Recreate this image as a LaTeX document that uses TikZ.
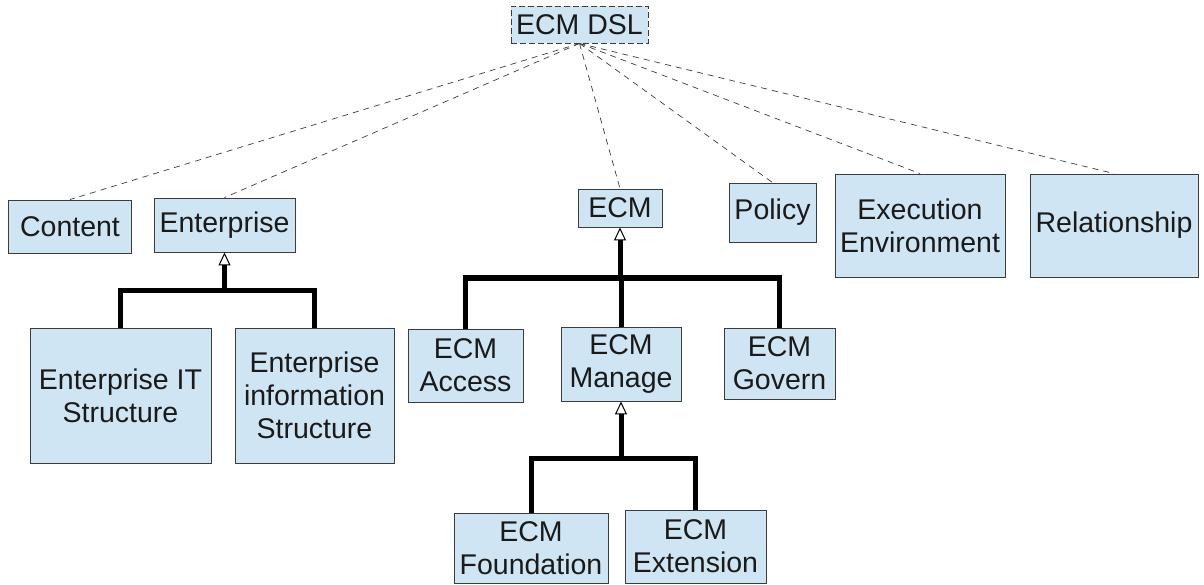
\documentclass[tikz,border=0pt]{standalone}
\usepackage{fontspec}
\setmainfont{Liberation Sans}
\usetikzlibrary{arrows.meta}
\definecolor{boxfill}{RGB}{207,229,243}
\definecolor{boxline}{RGB}{60,60,60}
\definecolor{txt}{RGB}{26,26,26}
\tikzset{
  cls/.style={draw=boxline, fill=boxfill, line width=0.9pt, inner sep=0pt, align=center,
    text=txt, font=\fontsize{28.5}{33}\selectfont},
  dep/.style={draw=boxline, line width=0.7pt, dash pattern=on 6pt off 5pt},
  gen/.style={draw=black, line width=5pt},
  gentip/.style={gen, -{Triangle[length=13pt, width=12pt, line width=1pt, fill=white]}}
}
\begin{document}
\begin{tikzpicture}[x=1pt, y=-1pt]
\useasboundingbox (0,0) rectangle (1204,585);
% nodes
\node[cls, dash pattern=on 6pt off 3pt, minimum width=137pt, minimum height=37pt] (dsl) at (579.5,24.5) {ECM DSL};
\node[cls, minimum width=123pt, minimum height=53pt] (content) at (70,226.5) {Content};
\node[cls, minimum width=141pt, minimum height=54pt] (ent) at (224.5,225) {Enterprise};
\node[cls, minimum width=181pt, minimum height=135pt] (eit) at (120.5,395.5) {Enterprise IT\\Structure};
\node[cls, minimum width=159pt, minimum height=135pt] (einf) at (314.5,395.5) {Enterprise\\information\\Structure};
\node[cls, minimum width=84pt, minimum height=38pt] (ecm) at (620,208) {ECM};
\node[cls, minimum width=87pt, minimum height=59pt] (policy) at (772.5,212.5) {Policy};
\node[cls, minimum width=170pt, minimum height=103pt] (exec) at (920,225.5) {Execution\\Environment};
\node[cls, minimum width=168pt, minimum height=103pt] (rel) at (1114,225.5) {Relationship};
\node[cls, minimum width=115pt, minimum height=73pt] (acc) at (465.5,365.5) {ECM\\Access};
\node[cls, minimum width=120pt, minimum height=74pt] (man) at (621,364) {ECM\\Manage};
\node[cls, minimum width=111pt, minimum height=71pt] (gov) at (779.5,363.5) {ECM\\Govern};
\node[cls, minimum width=154pt, minimum height=70pt] (fou) at (531,548) {ECM\\Foundation};
\node[cls, minimum width=141pt, minimum height=73pt] (ext) at (695.5,546.5) {ECM\\Extension};
% dependency lines
\foreach \n in {content,ent,ecm,policy,exec,rel}
  \draw[dep] (dsl.south) -- (\n.north);
% generalizations
\coordinate (ebar) at (224.5,290);
\draw[gen] (eit.north) |- (ebar) -| (einf.north);
\draw[gentip] (ebar) -- (ent.south);
\coordinate (cbar) at (620,278);
\draw[gen] (acc.north) |- (cbar) -| (gov.north);
\draw[gen] (man.north) -- (man.north |- cbar);
\draw[gentip] (cbar) -- (ecm.south);
\coordinate (mbar) at (621,458);
\draw[gen] (fou.north) |- (mbar) -| (ext.north);
\draw[gentip] (mbar) -- (man.south);
\end{tikzpicture}
\end{document}
